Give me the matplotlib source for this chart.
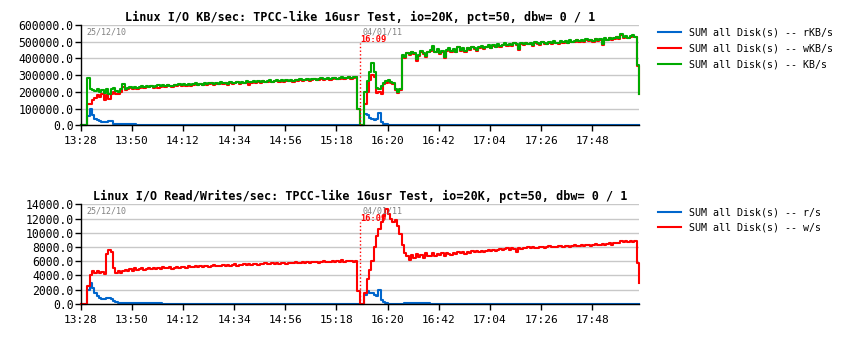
import numpy as np
import matplotlib
matplotlib.use("Agg")
import matplotlib.pyplot as plt
from matplotlib.ticker import FormatStrFormatter
import matplotlib.transforms as mtransforms

plt.rcParams['font.family'] = ['DejaVu Sans Mono']

# one sample per minute of run time, ticks every 22 samples
tick_samples = [0, 22, 44, 66, 88, 110, 132, 154, 176, 198, 220]
tick_labels = ["13:28", "13:50", "14:12", "14:34", "14:56", "15:18",
               "16:20", "16:42", "17:04", "17:26", "17:48"]
break_sample = 120.2
break_label = "16:09"
date_start = "25/12/10"
date_break = "04/01/11"

# Disk KB/s totals (thousands)
kb_total = [
    0, 0, 0, 285, 215, 210, 205, 215, 200, 210,
    195, 220, 185, 215, 225, 205, 200, 215, 245, 220,
    225, 228, 222, 232, 226, 230, 234, 228, 236, 232,
    238, 230, 236, 240, 233, 241, 236, 244, 238, 235,
    243, 240, 246, 239, 245, 242, 248, 240, 246, 250,
    244, 249, 243, 252, 246, 250, 255, 247, 252, 249,
    256, 250, 254, 248, 257, 252, 255, 260, 253, 258,
    254, 262, 256, 259, 264, 257, 262, 258, 266, 260,
    263, 268, 261, 266, 270, 264, 268, 262, 271, 266,
    270, 265, 273, 268, 275, 269, 272, 277, 270, 274,
    279, 272, 276, 281, 274, 279, 283, 276, 281, 285,
    278, 283, 287, 280, 285, 290, 282, 288, 290, 100,
    0, 0, 200, 265, 320, 370, 320, 225, 215, 235,
    255, 262, 268, 258, 250, 215, 200, 215, 420, 410,
    435, 425, 440, 430, 395, 420, 445, 430, 415, 440,
    450, 475, 440, 455, 430, 445, 410, 450, 460, 445,
    455, 440, 470, 450, 460, 445, 465, 455, 470, 460,
    450, 468, 475, 462, 470, 480, 465, 478, 470, 485,
    475, 482, 490, 478, 486, 480, 495, 484, 455, 490,
    485, 495, 488, 492, 480, 497, 490, 485, 500, 492,
    488, 498, 493, 502, 495, 490, 505, 498, 503, 495,
    508, 500, 505, 512, 502, 510, 504, 515, 508, 512,
    505, 518, 510, 514, 485, 520, 512, 525, 516, 522,
    530, 520, 545, 528, 535, 525, 532, 538, 530, 360,
    190]

kb_write = [
    0, 0, 0, 130, 125, 150, 165, 180, 172, 188,
    150, 182, 160, 188, 198, 190, 186, 200, 228, 210,
    218, 222, 215, 226, 220, 226, 230, 224, 232, 228,
    234, 226, 232, 222, 229, 237, 232, 240, 234, 231,
    239, 236, 242, 235, 241, 238, 244, 236, 242, 246,
    240, 245, 239, 248, 242, 246, 251, 243, 248, 245,
    252, 246, 250, 244, 253, 248, 251, 256, 249, 254,
    250, 258, 244, 255, 260, 253, 258, 254, 262, 256,
    259, 264, 257, 262, 266, 260, 264, 258, 267, 262,
    266, 261, 269, 264, 271, 265, 268, 273, 266, 270,
    275, 268, 272, 277, 270, 275, 279, 272, 277, 281,
    274, 279, 283, 276, 281, 286, 278, 284, 286, 95,
    0, 0, 130, 200, 270, 300, 290, 195, 200, 190,
    245, 255, 262, 255, 246, 210, 195, 210, 410, 405,
    430, 420, 436, 426, 385, 416, 441, 426, 411, 436,
    446, 471, 436, 451, 426, 441, 405, 446, 456, 441,
    451, 436, 466, 446, 456, 441, 461, 451, 466, 456,
    446, 464, 471, 458, 466, 476, 461, 474, 466, 481,
    471, 478, 486, 474, 482, 476, 491, 480, 450, 486,
    481, 491, 484, 488, 476, 493, 486, 481, 496, 488,
    484, 494, 489, 498, 491, 486, 501, 494, 499, 491,
    504, 496, 501, 508, 498, 506, 500, 511, 504, 508,
    501, 514, 506, 510, 480, 516, 508, 521, 512, 518,
    526, 516, 541, 524, 531, 521, 528, 534, 526, 356,
    186]

kb_read = [
    0, 0, 0, 55, 100, 60, 40, 30, 24, 21,
    20, 20, 25, 25, 6, 5, 5, 5, 5, 5,
    5, 5, 5, 5, 0, 0, 0, 0, 0, 0,
    0, 0, 0, 0, 0, 0, 0, 0, 0, 0,
    0, 0, 0, 0, 0, 0, 0, 0, 0, 0,
    0, 0, 0, 0, 0, 0, 0, 0, 0, 0,
    0, 0, 0, 0, 0, 0, 0, 0, 0, 0,
    0, 0, 0, 0, 0, 0, 0, 0, 0, 0,
    0, 0, 0, 0, 0, 0, 0, 0, 0, 0,
    0, 0, 0, 0, 0, 0, 0, 0, 0, 0,
    0, 0, 0, 0, 0, 0, 0, 0, 0, 0,
    0, 0, 0, 0, 0, 0, 0, 0, 0, 0,
    0, 0, 70, 60, 45, 40, 30, 35, 75, 20,
    10, 5, 0, 0, 0, 0, 0, 0, 0, 0,
    0, 0, 0, 4, 4, 4, 0, 0, 0, 0,
    0, 0, 0, 0, 0, 0, 0, 0, 0, 0,
    0, 0, 0, 0, 0, 0, 0, 0, 0, 0,
    0, 0, 0, 0, 0, 0, 0, 0, 0, 0,
    0, 0, 0, 0, 0, 0, 0, 0, 0, 0,
    0, 0, 0, 0, 0, 0, 0, 0, 0, 0,
    0, 0, 0, 0, 0, 0, 0, 0, 0, 0,
    0, 0, 0, 0, 0, 0, 0, 0, 0, 0,
    0, 0, 0, 0, 0, 0, 0, 0, 0, 0,
    0, 0, 0, 0, 0, 0, 0, 0, 0, 0,
    0]

# Read/Writes per second
writes_ps = [
    0, 0, 0, 2500, 4000, 4600, 4400, 4700, 4300, 4500,
    4200, 7000, 7600, 7300, 5000, 4400, 4700, 4300, 4600, 4800,
    4600, 4900, 4700, 5000, 4750, 4850, 5100, 4800, 4950, 5000,
    4850, 5050, 4950, 5100, 4900, 5150, 5000, 5050, 5200, 4950,
    5100, 5200, 5050, 5250, 5150, 5100, 5300, 5200, 5150, 5300,
    5250, 5350, 5200, 5300, 5400, 5250, 5350, 5450, 5300, 5400,
    5350, 5450, 5300, 5500, 5400, 5450, 5550, 5400, 5500, 5450,
    5550, 5450, 5600, 5500, 5650, 5550, 5500, 5650, 5600, 5700,
    5550, 5650, 5700, 5600, 5750, 5650, 5700, 5800, 5650, 5750,
    5800, 5700, 5850, 5750, 5800, 5900, 5750, 5850, 5800, 5900,
    5850, 5950, 5800, 5900, 6000, 5850, 5950, 5900, 6050, 5950,
    6000, 5900, 6150, 5950, 6050, 6000, 6100, 5950, 6050, 1800,
    0, 0, 1500, 3500, 4800, 6000, 8000, 9500, 10500, 11500,
    12300, 13300, 12700, 12000, 11500, 11800, 11000, 9800, 8300, 7200,
    6800, 6200, 6900, 6500, 7000, 6600, 6900, 6400, 7100, 6700,
    6800, 7100, 6700, 7000, 6900, 7200, 6800, 7100, 7000, 6900,
    7200, 7000, 7300, 7100, 7250, 7050, 7350, 7200, 7400, 7250,
    7400, 7300, 7500, 7350, 7450, 7550, 7400, 7600, 7450, 7550,
    7700, 7550, 7750, 7850, 7650, 7900, 7750, 7300, 7850, 7750,
    7900, 7800, 7950, 7850, 8000, 7900, 7800, 7950, 8050, 7900,
    8000, 8100, 7950, 8050, 8000, 8100, 8150, 8000, 8100, 8200,
    8050, 8150, 8250, 8100, 8200, 8300, 8150, 8250, 8350, 8200,
    8300, 8400, 8250, 8350, 8450, 8300, 8400, 8550, 8350, 8500,
    8600, 8500, 8800, 8650, 8850, 8700, 8900, 8750, 8800, 5800,
    2900]

reads_ps = [
    0, 0, 0, 2000, 3000, 2300, 1500, 1100, 850, 750,
    700, 800, 900, 750, 400, 250, 200, 200, 200, 200,
    200, 200, 200, 200, 200, 200, 200, 200, 200, 200,
    200, 200, 200, 200, 200, 0, 0, 0, 0, 0,
    0, 0, 0, 0, 0, 0, 0, 0, 0, 0,
    0, 0, 0, 0, 0, 0, 0, 0, 0, 0,
    0, 0, 0, 0, 0, 0, 0, 0, 0, 0,
    0, 0, 0, 0, 0, 0, 0, 0, 0, 0,
    0, 0, 0, 0, 0, 0, 0, 0, 0, 0,
    0, 0, 0, 0, 0, 0, 0, 0, 0, 0,
    0, 0, 0, 0, 0, 0, 0, 0, 0, 0,
    0, 0, 0, 0, 0, 0, 0, 0, 0, 0,
    0, 0, 1200, 1800, 1500, 1600, 1300, 1100, 2000, 500,
    300, 150, 0, 0, 0, 0, 0, 0, 0, 80,
    80, 80, 80, 80, 80, 80, 80, 80, 80, 80,
    0, 0, 0, 0, 0, 0, 0, 0, 0, 0,
    0, 0, 0, 0, 0, 0, 0, 0, 0, 0,
    0, 0, 0, 0, 0, 0, 0, 0, 0, 0,
    0, 0, 0, 0, 0, 0, 0, 0, 0, 0,
    0, 0, 0, 0, 0, 0, 0, 0, 0, 0,
    0, 0, 0, 0, 0, 0, 0, 0, 0, 0,
    0, 0, 0, 0, 0, 0, 0, 0, 0, 0,
    0, 0, 0, 0, 0, 0, 0, 0, 0, 0,
    0, 0, 0, 0, 0, 0, 0, 0, 0, 0,
    0]

BLUE = '#0066CC'
RED = '#FF0000'
GREEN = '#00AA00'


def style_axes(ax, ymax, ystep, title):
    ax.set_xlim(0, 240.2)
    ax.set_ylim(0, ymax)
    ax.set_yticks(np.arange(0, ymax + 1, ystep))
    ax.yaxis.set_major_formatter(FormatStrFormatter('%.1f'))
    ax.set_xticks(tick_samples)
    ax.set_xticklabels(tick_labels)
    ax.yaxis.grid(True, color='#c8c8c8', lw=1)
    ax.set_axisbelow(True)
    for s in ('top', 'right'):
        ax.spines[s].set_visible(False)
    for s in ('left', 'bottom'):
        ax.spines[s].set_linewidth(1)
    ax.tick_params(direction='out', length=4, width=1)
    ax.tick_params(axis='y', labelsize=8.3, pad=1)
    ax.tick_params(axis='x', labelsize=8, pad=4)
    ax.set_title(title, fontsize=8.5, fontweight='bold', pad=3)

    trans = mtransforms.blended_transform_factory(ax.transData, ax.transAxes)
    ax.text(0.01, 0.935, date_start, transform=ax.transAxes, fontsize=6,
            color='#808080', va='center', ha='left')
    ax.text(break_sample + 1.2, 0.935, date_break, transform=trans, fontsize=6,
            color='#808080', va='center', ha='left')
    ax.text(break_sample + 0.2, 0.855, break_label, transform=trans, fontsize=6.2,
            color=RED, fontweight='bold', va='center', ha='left')
    ax.axvline(break_sample, ymin=0, ymax=0.82, color=RED, ls=':', lw=1)


x = np.arange(len(kb_total))

fig = plt.figure(figsize=(8.52, 3.4), dpi=100)
ax1 = fig.add_axes([0.0945, 0.6315, 0.656, 0.295])
ax2 = fig.add_axes([0.0945, 0.106, 0.656, 0.293])

ax1.plot(x, np.array(kb_read) * 1000, drawstyle='steps-post', color=BLUE, lw=1.5,
         clip_on=False, label='SUM all Disk(s) -- rKB/s')
ax1.plot(x, np.array(kb_write) * 1000, drawstyle='steps-post', color=RED, lw=1.5,
         clip_on=False, label='SUM all Disk(s) -- wKB/s')
ax1.plot(x, np.array(kb_total) * 1000, drawstyle='steps-post', color=GREEN, lw=1.5,
         clip_on=False, label='SUM all Disk(s) -- KB/s')
style_axes(ax1, 600000, 100000,
           'Linux I/O KB/sec: TPCC-like 16usr Test, io=20K, pct=50, dbw= 0 / 1')

ax2.plot(x, reads_ps, drawstyle='steps-post', color=BLUE, lw=1.5,
         clip_on=False, label='SUM all Disk(s) -- r/s')
ax2.plot(x, writes_ps, drawstyle='steps-post', color=RED, lw=1.5,
         clip_on=False, label='SUM all Disk(s) -- w/s')
style_axes(ax2, 14000, 2000,
           'Linux I/O Read/Writes/sec: TPCC-like 16usr Test, io=20K, pct=50, dbw= 0 / 1')

for ax in (ax1, ax2):
    ax.legend(loc='upper left', bbox_to_anchor=(1.033, 0.973), frameon=False,
              fontsize=7.2, handlelength=2.3, handletextpad=0.8,
              labelspacing=0.58, borderaxespad=0, borderpad=0)

fig.savefig('out.png', dpi=100)
